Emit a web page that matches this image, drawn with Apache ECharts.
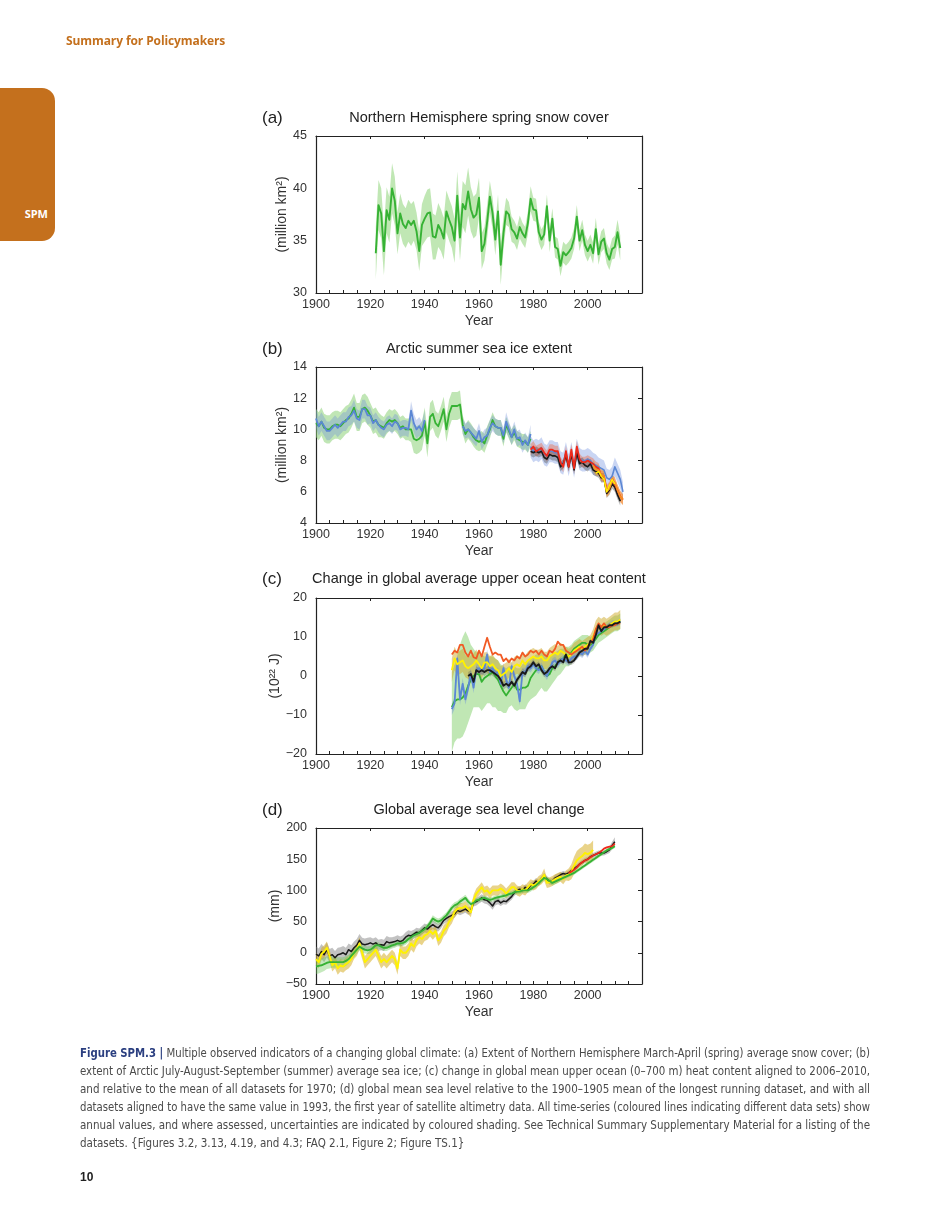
<!DOCTYPE html>
<html>
<head>
<meta charset="utf-8">
<script src="https://cdn.jsdelivr.net/npm/echarts@6/dist/echarts.min.js"></script>
<style>
  html, body { margin:0; padding:0; background:#fff; }
  body { width:950px; height:1230px; position:relative; overflow:hidden; font-family:"Liberation Sans", Arial, sans-serif; }
  #chart { position:absolute; left:0; top:0; width:950px; height:1230px; }
  .hdr { position:absolute; left:66px; top:32px; font-size:12px; font-weight:bold; color:#c4701d; font-family:"Open Sans","Liberation Sans",sans-serif; letter-spacing:-0.1px; }
  .tab { position:absolute; left:0; top:88px; width:55px; height:153px; background:#c4701d; border-radius:0 13px 13px 0; }
  .tab span { position:absolute; right:7px; top:118px; color:#fff; font-weight:bold; font-size:11px; font-family:"Open Sans","Liberation Sans",sans-serif; }
  .cap { position:absolute; left:80px; top:1044px; width:790px; font-family:"Liberation Sans Narrow","DejaVu Sans Condensed","Liberation Sans",sans-serif; font-size:11.5px; color:#4a4a4a; }
  .cap .ln { height:18px; line-height:18px; white-space:nowrap; }
  .cap .ln > span { display:inline-block; white-space:nowrap; transform-origin:0 50%; }
  .cap b { color:#2b3f80; }
  .pg { position:absolute; left:80px; top:1170px; font-weight:bold; font-size:12px; color:#222; }
</style>
</head>
<body>
<div id="chart"></div>
<div class="hdr">Summary for Policymakers</div>
<div class="tab"><span>SPM</span></div>
<div class="cap">
  <div class="ln"><span><b>Figure SPM.3 |</b> Multiple observed indicators of a changing global climate: (a) Extent of Northern Hemisphere March-April (spring) average snow cover; (b)</span></div>
  <div class="ln"><span>extent of Arctic July-August-September (summer) average sea ice; (c) change in global mean upper ocean (0–700 m) heat content aligned to 2006–2010,</span></div>
  <div class="ln"><span>and relative to the mean of all datasets for 1970; (d) global mean sea level relative to the 1900–1905 mean of the longest running dataset, and with all</span></div>
  <div class="ln"><span>datasets aligned to have the same value in 1993, the first year of satellite altimetry data. All time-series (coloured lines indicating different data sets) show</span></div>
  <div class="ln"><span>annual values, and where assessed, uncertainties are indicated by coloured shading. See Technical Summary Supplementary Material for a listing of the</span></div>
  <div class="ln last"><span>datasets. {Figures 3.2, 3.13, 4.19, and 4.3; FAQ 2.1, Figure 2; Figure TS.1}</span></div>
</div>
<div class="pg">10</div>
<script>
// ---------------- DATA ----------------
const xTickLabels = [1900, 1920, 1940, 1960, 1980, 2000];

// (a) Northern Hemisphere spring snow cover (million km2), 1922-2012
const snowStart = 1922;
const snowCover = [33.8,38.4,37.6,34.0,37.9,37.0,40.0,38.8,
  35.7,37.6,36.6,36.2,36.9,36.5,36.9,35.9,34.0,36.5,
  37.1,37.6,37.7,35.4,35.3,36.5,36.0,35.2,37.8,37.0,
  36.3,35.0,39.3,35.3,38.5,38.0,39.7,38.0,37.2,37.5,
  39.1,34.0,34.7,36.8,39.2,37.6,35.1,37.8,32.7,35.7,
  37.8,37.5,36.1,35.8,35.2,36.3,35.7,35.3,36.7,39.0,
  38.0,37.9,35.8,35.1,35.6,38.3,35.0,37.1,34.4,34.2,
  32.6,33.9,33.6,33.9,34.3,35.2,37.3,35.0,36.0,34.6,
  34.0,34.6,33.8,36.1,33.7,34.9,35.2,33.8,33.2,34.2,
  34.4,35.8,34.3];
const snowUnc = [2.5,2.4,2.4,2.3,2.2,2.2,2.4,2.3,
  2.0,1.9,1.9,1.9,2.0,2.0,1.9,1.8,1.9,2.0,
  2.2,2.3,2.3,2.2,2.1,2.1,2.0,2.0,2.0,2.0,
  2.0,2.1,2.3,2.2,2.2,2.3,2.3,2.1,2.0,2.0,
  1.9,1.7,1.6,1.6,1.5,1.5,1.5,1.6,1.9,1.6,
  1.3,1.2,1.2,1.1,1.1,1.1,1.0,1.0,1.1,1.2,
  1.1,1.1,1.0,1.0,1.0,1.1,1.1,1.0,1.0,1.0,
  1.0,1.0,1.0,1.0,1.0,1.0,1.1,1.0,1.0,1.0,
  1.0,1.0,1.0,1.1,1.0,1.0,1.0,1.0,1.0,1.0,
  1.1,1.2,1.2];

// (b) Arctic summer sea ice extent (million km2)
const iceGreenStart = 1900;
const iceGreen = [10.4,10.2,10.5,10.1,10.0,10.0,10.2,10.3,10.3,10.2,
  10.4,10.6,10.7,11.0,11.4,10.8,10.8,11.3,11.4,11.2,
  10.9,10.5,10.6,10.3,10.2,10.1,10.4,10.6,10.5,10.6,
  10.4,10.1,10.2,10.0,10.0,10.0,9.4,9.3,9.4,9.6,
  10.5,9.1,10.8,11.0,10.4,10.2,10.7,11.3,10.0,11.0,
  11.5,11.5,11.5,11.6,10.3,9.7,10.0,9.8,9.5,9.3,
  9.2,9.3,9.1,9.6,10.0,10.6,10.2,10.1,10.1,9.4,
  10.3,9.9,9.5,9.8,9.4,9.3,9.2,9.2,9.0,9.4];
const iceGreenUnc = [0.9,0.9,0.9,0.9,0.9,0.9,0.9,0.9,0.9,0.9,
  0.9,0.9,0.9,0.9,0.9,0.9,0.9,0.9,0.9,0.9,
  0.8,0.8,0.8,0.8,0.7,0.7,0.7,0.7,0.7,0.7,
  0.7,0.7,0.7,0.7,0.7,0.8,0.9,0.9,0.9,0.9,
  0.9,0.9,0.9,0.9,0.8,0.8,0.8,0.8,0.8,0.9,
  0.9,0.9,0.9,0.9,0.6,0.6,0.6,0.6,0.6,0.6,
  0.6,0.6,0.6,0.6,0.6,0.5,0.5,0.5,0.5,0.5,
  0.5,0.5,0.5,0.5,0.5,0.5,0.5,0.5,0.5,0.5];
const iceBlueEarlyStart = 1900;
const iceBlueEarly = [10.7,10.2,10.5,10.2,9.9,9.9,10.1,10.3,10.1,10.3,
  10.5,10.5,10.8,10.9,11.2,10.7,10.6,11.3,11.3,10.9,
  10.9,10.4,10.6,10.3,10.1,10.0,10.3,10.4,10.2,10.5,
  10.4,10.0,10.1,10.1,10.0,11.2,10.4,10.0,10.2,9.9,
  10.6];
const iceBlueEarlyUnc = [0.6,0.6,0.6,0.6,0.6,0.6,0.6,0.6,0.6,0.6,
  0.6,0.6,0.6,0.6,0.7,0.6,0.6,0.6,0.6,0.6,
  0.5,0.5,0.5,0.5,0.5,0.5,0.5,0.5,0.5,0.5,
  0.5,0.5,0.5,0.5,0.5,0.6,0.6,0.6,0.6,0.6,
  0.6];
const iceBlueMidStart = 1954;
const iceBlueMid = [10.2,9.9,10.0,9.8,9.6,9.4,9.9,9.2,9.5,9.6,
  10.1,10.4,10.2,10.1,10.1,9.6,10.5,10.0,9.5,10.0,
  9.4,9.5,9.0,9.3,9.0,9.7];
const iceBlueMidUnc = [0.5,0.5,0.5,0.5,0.5,0.5,0.5,0.5,0.5,0.5,
  0.5,0.5,0.5,0.5,0.5,0.5,0.6,0.5,0.5,0.5,
  0.5,0.5,0.5,0.5,0.5,0.6];
const iceSatStart = 1979;
const iceBlueLate = [8.9,8.6,8.7,8.6,8.8,8.4,8.3,8.6,8.6,8.5,
  8.5,7.9,7.8,8.5,7.7,8.5,7.6,8.7,8.1,8.0,
  8.0,8.1,8.0,7.8,7.7,7.6,7.5,7.4,6.9,6.8,
  7.0,7.6,7.2,6.8,6.0];
const iceBlueLateUnc = [0.7,0.7,0.7,0.7,0.7,0.7,0.7,0.7,0.7,0.7,
  0.7,0.7,0.7,0.7,0.7,0.7,0.7,0.7,0.7,0.7,
  0.7,0.7,0.7,0.7,0.7,0.6,0.6,0.6,0.6,0.6,
  0.6,0.6,0.6,0.6,0.6];
const iceBlack = [8.6,8.5,8.6,8.5,8.6,8.2,8.1,8.4,8.3,8.3,
  8.2,7.6,7.8,8.3,7.6,8.4,7.4,8.5,7.8,7.9,
  7.7,7.6,7.8,7.4,7.3,7.2,6.9,6.9,5.9,6.1,
  6.5,6.3,5.8,5.4];
const iceBlackUnc = [0.3,0.3,0.3,0.3,0.3,0.3,0.3,0.3,0.3,0.3,
  0.3,0.3,0.3,0.3,0.3,0.3,0.3,0.3,0.3,0.3,
  0.3,0.3,0.3,0.3,0.3,0.3,0.3,0.3,0.3,0.3,
  0.3,0.3,0.3,0.3];
const iceRed = [8.7,8.9,8.6,8.7,8.8,8.5,8.3,8.7,8.7,8.6,
  8.6,7.9,7.6,8.6,7.6,8.7,7.5,8.9,8.1,7.9,
  7.9,8.0,7.9,7.8,7.6,7.5,7.0,7.0,6.1,6.3,
  6.8,6.5,6.1,5.7,5.5];
const iceRedUnc = [0.35,0.35,0.35,0.35,0.35,0.35,0.35,0.35,0.35,0.35,
  0.35,0.35,0.35,0.35,0.35,0.35,0.35,0.35,0.35,0.35,
  0.35,0.35,0.35,0.35,0.35,0.35,0.35,0.35,0.35,0.35,
  0.35,0.35,0.35,0.35,0.35];
const iceOrangeStart = 2002;
const iceOrange = [7.7,7.4,7.4,7.1,7.0,6.0,6.2,6.7,6.6,6.1,5.7,5.5];
const iceOrangeUnc = [0.35,0.35,0.35,0.35,0.35,0.35,0.35,0.35,0.35,0.35,0.35,0.35];
const iceYellowStart = 2003;
const iceYellow = [7.2,7.3,7.0,6.8,6.0,6.4,6.8,6.5];

// (c) Change in upper ocean heat content (10^22 J), 1950-2012
const ohcStart = 1950;
const ohcRed = [5.5,6.5,6.0,8.0,8.0,6.0,5.0,6.5,4.8,4.5,
  6.5,5.0,7.5,9.8,7.5,5.5,6.0,5.5,5.5,3.8,
  4.5,3.5,4.5,4.0,5.0,4.5,6.0,5.0,5.5,6.5,
  6.0,6.5,5.5,6.5,5.5,5.0,6.5,6.0,7.0,8.8,
  8.0,8.0,6.5,6.0,5.5,6.0,6.5,7.0,7.5,6.5,
  7.5,8.5,9.5,12.0,13.5,12.5,13.5,12.5,12.5,13.0,
  13.0,13.5,13.5];
const ohcYellow = [1.5,4.5,3.0,3.5,4.0,2.5,2.0,2.5,3.0,4.0,
  3.0,2.0,3.5,3.5,2.5,3.0,2.0,1.5,0.0,0.5,
  1.0,2.0,1.0,2.5,3.0,2.5,4.0,3.0,4.0,4.5,
  5.0,4.5,4.5,5.0,4.0,4.0,5.0,5.5,6.0,5.5,
  6.5,6.0,5.5,5.0,5.5,6.5,7.0,7.5,7.0,7.5,
  8.0,8.5,10.0,12.0,13.0,12.5,13.0,12.5,13.0,13.5,
  14.0,14.0,14.5];
const ohcYellowUnc = [3.0,3.0,3.0,3.0,3.0,2.8,2.8,2.8,2.8,2.8,
  2.6,2.6,2.6,2.6,2.6,2.5,2.5,2.5,2.5,2.5,
  2.4,2.4,2.4,2.4,2.4,2.3,2.3,2.3,2.3,2.3,
  2.2,2.2,2.2,2.2,2.2,2.2,2.2,2.2,2.2,2.2,
  2.0,2.0,2.0,2.0,2.0,2.0,2.0,2.0,2.0,2.0,
  2.0,2.0,2.0,2.2,2.2,2.2,2.2,2.2,2.2,2.2,
  2.3,2.3,2.4];
const ohcBlue = [-8.5,-7.0,4.5,-6.0,-2.0,-6.0,-3.0,0.5,-3.0,1.5,
  2.0,1.5,2.0,5.5,1.0,2.0,0.5,1.0,-2.0,2.0,
  -1.0,-3.0,2.5,0.0,-2.0,-6.5,1.0,1.0,2.5,2.0,
  3.0,2.0,1.5,2.5,1.0,0.0,1.5,3.5,4.0,3.0,
  4.0,4.5,4.0,3.5,4.5,5.0,5.0,6.0,5.5,6.5,
  5.5,7.0,8.0,10.5,11.0,11.5,12.0,12.5,13.0,13.5,
  13.5,13.5,14.0];
const ohcBlueUnc = [1.5,1.5,1.5,1.5,1.5,1.4,1.4,1.4,1.4,1.4,
  1.3,1.3,1.3,1.3,1.3,1.2,1.2,1.2,1.2,1.2,
  1.2,1.2,1.2,1.2,1.2,1.1,1.1,1.1,1.1,1.1,
  1.0,1.0,1.0,1.0,1.0,1.0,1.0,1.0,1.0,1.0,
  0.9,0.9,0.9,0.9,0.9,0.9,0.9,0.9,0.9,0.9,
  0.8,0.8,0.8,0.8,0.8,0.8,0.8,0.8,0.8,0.8,
  0.8,0.8,0.8];
const ohcGreen = [-8.0,-6.5,-6.0,-6.0,-5.5,-4.5,-2.5,-1.0,0.0,0.5,
  0.5,-1.5,-0.5,0.0,0.5,1.0,0.0,-1.0,-2.5,-4.0,
  -5.0,-4.0,-3.0,-2.0,-3.5,-3.5,-3.0,-3.0,-2.5,-0.5,
  0.5,1.5,2.0,2.5,1.0,0.0,0.5,2.0,2.5,3.5,
  4.0,4.5,5.5,5.0,6.0,7.0,7.5,8.0,8.5,8.5,
  8.0,8.0,8.5,9.5,10.5,11.0,11.5,12.0,12.5,13.0,
  13.5,13.5,14.0];
const ohcGreenLow = [-19.5,-17,-16,-16,-15.5,-14,-12,-10,-8,-8,
  -8,-9,-8,-7,-7,-8,-8,-9,-9,-9.5,
  -9.5,-8,-7.5,-8.5,-9,-8.5,-8.5,-8.5,-7,-6,
  -5.5,-5,-4,-3,-4,-4,-3,-2,-1,0,
  0.5,1.5,2.5,2.5,3,4,4.5,5,5.5,5.5,
  5.5,6,6.5,7.5,8.5,9,9.5,10,10.5,11,
  11.5,11.5,12];
const ohcGreenHigh = [1,3,5,8,10,11.5,10,8,7,6,
  6,5.5,5,5,5,5,4.5,4,3,2.5,
  2,2.5,2.5,2.5,2,2,3,3.5,4,4.5,
  5,5.5,5.5,6,5.5,5,5,5.5,6,6.5,
  7,7,7.5,7.5,8,9,9.5,10,10.5,10.5,
  10.5,10,10.5,11.5,12.5,13,13.5,14,14.5,15,
  15.5,15.5,16];
const ohcBlackStart = 1956;
const ohcBlack = [0.0,0.5,-1.5,1.5,
  1.0,1.5,1.0,1.5,1.5,1.0,0.5,0.0,-1.0,-2.5,
  -2.0,-2.5,-1.5,-2.5,-1.0,0.0,1.0,0.5,2.0,2.5,
  3.5,2.5,3.0,1.5,0.5,1.0,2.0,2.5,2.0,3.5,
  4.0,3.5,5.5,3.5,3.5,4.0,5.0,6.0,6.5,7.0,
  7.0,9.0,8.5,10.5,13.0,11.5,12.5,12.5,13.0,13.0,
  13.5,13.5,14.0];
const ohcBlackUnc = [1.0,1.0,1.0,1.0,
  1.0,1.0,1.0,1.0,1.0,1.0,1.0,1.0,1.0,1.0,
  0.9,0.9,0.9,0.9,0.9,0.9,0.9,0.9,0.9,0.9,
  0.8,0.8,0.8,0.8,0.8,0.8,0.8,0.8,0.8,0.8,
  0.7,0.7,0.7,0.7,0.7,0.7,0.7,0.7,0.7,0.7,
  0.6,0.6,0.6,0.6,0.6,0.6,0.6,0.6,0.6,0.6,
  0.6,0.6,0.6];

// (d) Global average sea level change (mm)
const slStart = 1900;
const slBlack = [-2,-5,2,-3,5,-5,-3,-8,-3,-2,
  0,-3,5,2,8,12,20,14,13,14,
  16,14,16,12,13,12,18,16,17,18,
  20,18,20,25,28,27,30,33,32,36,
  40,38,42,45,42,40,45,52,55,58,
  60,62,68,66,68,70,67,68,80,82,
  85,88,85,84,80,75,82,84,80,83,
  82,86,90,96,100,102,100,105,102,108,
  110,115,112,118,123,118,114,115,120,122,
  125,127,126,128,132,135,138,142,145,148,
  150,154,156,158,160,160,160,162,165,172,
  178];
const slBlackUnc = [12,12,12,12,12,11,11,11,11,11,
  11,11,10,10,10,10,10,10,10,10,
  9,9,9,9,9,9,9,9,8,8,
  8,8,8,8,8,8,7,7,7,7,
  7,7,7,7,7,6,6,6,6,6,
  6,6,6,6,6,6,6,6,6,6,
  6,6,6,6,6,6,6,6,5,5,
  5,5,5,5,5,5,5,5,5,5,
  5,5,5,5,5,5,5,5,5,5,
  4,4,4,4,4,4,4,4,4,4,
  4,4,4,4,4,4,4,4,5,6,
  7];
const slYellow = [-10,-15,-2,2,8,-5,-20,-15,-25,-20,
  -22,-18,-15,-10,0,5,15,0,-15,-10,
  -5,0,5,-5,-15,-10,-15,-10,-5,-10,
  -25,5,0,0,5,15,10,20,25,22,
  28,30,35,30,35,20,25,35,40,50,
  55,65,70,72,72,75,70,65,85,95,
  100,105,98,100,95,100,100,100,103,100,
  95,100,105,105,100,98,102,100,105,110,
  108,110,115,118,125,112,113,115,118,120,
  122,118,124,125,130,140,148,152,155,160,
  158,160,165];
const slYellowUnc = [10,10,10,10,10,10,10,10,10,10,
  10,10,10,10,10,10,10,10,10,10,
  10,10,10,10,10,10,10,10,10,10,
  10,10,10,10,10,10,10,10,10,10,
  9,9,9,9,9,9,9,9,9,9,
  8,8,8,8,8,8,8,8,8,8,
  8,8,8,8,8,8,8,8,8,8,
  8,8,8,8,8,8,8,8,8,8,
  8,8,8,8,10,8,8,8,8,8,
  8,8,8,10,12,14,15,15,15,15,
  15,15,15];
const slGreen = [-22,-21,-20,-18,-16,-15,-15,-15,-15,-15,
  -15,-13,-10,-5,0,5,10,7,5,4,
  5,8,12,12,10,8,8,10,12,13,
  15,15,16,18,22,25,28,30,32,35,
  38,42,48,55,52,50,52,56,60,66,
  72,76,78,82,85,88,82,78,80,84,
  85,87,88,86,85,86,88,89,90,91,
  92,94,95,97,98,98,100,100,100,102,
  105,108,112,116,120,118,115,112,114,116,
  118,120,122,124,126,128,131,134,137,140,
  143,146,149,152,155,158,161,164,166,168,
  171];
const slGreenUnc = [12,12,11,11,10,10,9,9,8,8,
  8,8,7,7,7,7,6,6,6,6,
  6,6,6,5,5,5,5,5,5,5,
  5,5,5,5,5,5,5,5,5,5,
  5,5,5,5,5,5,5,5,5,5,
  5,5,5,5,5,5,5,4,4,4,
  4,4,4,4,4,4,4,4,4,4,
  4,4,4,4,4,4,4,4,4,4,
  4,4,4,4,4,4,4,4,4,4,
  3,3,3,3,3,3,3,3,3,3,
  3,3,3,3,3,3,3,3,3,3,
  3];
const slRedStart = 1993;
const slRed = [128,130,133,137,142,145,148,150,153,156,158,160,163,167,169,170,171,175];

// ---------------- CHART ----------------
const FONT = '"Liberation Sans", Arial, Helvetica, sans-serif';
const grids = [
  { top: 136, height: 157 },
  { top: 367, height: 156 },
  { top: 598, height: 156 },
  { top: 828, height: 156 }
];
const yCfg = [
  { min: 30, max: 45, interval: 5, name: '(million km²)' },
  { min: 4, max: 14, interval: 2, name: '(million km²)' },
  { min: -20, max: 20, interval: 10, name: '(10²² J)' },
  { min: -50, max: 200, interval: 50, name: '(mm)' }
];
const titles = [
  ['(a)', 'Northern Hemisphere spring snow cover', 118],
  ['(b)', 'Arctic summer sea ice extent', 349],
  ['(c)', 'Change in global average upper ocean heat content', 579],
  ['(d)', 'Global average sea level change', 810]
];
const AX = '#222';
const xAxis = [], yAxis = [], series = [], graphic = [];
grids.forEach((g, i) => {
  xAxis.push({
    gridIndex: i, type: 'value', min: 1900, max: 2020, interval: 20, position: 'bottom',
    axisLine: { show: true, onZero: false, lineStyle: { color: AX, width: 1.2 } },
    axisTick: { show: true, inside: true, length: 3, lineStyle: { color: AX, width: 1 } },
    minorTick: { show: true, splitNumber: 4, length: 3, lineStyle: { color: AX, width: 1 } },
    splitLine: { show: false },
    axisLabel: { fontSize: 12.5, color: '#333', margin: 5, fontFamily: FONT,
      formatter: v => (xTickLabels.indexOf(v) >= 0 ? String(v) : '') },
    name: 'Year', nameLocation: 'middle', nameGap: 21,
    nameTextStyle: { fontSize: 14, color: '#333', fontFamily: FONT }
  });
  xAxis.push({
    gridIndex: i, type: 'value', min: 1900, max: 2020, interval: 20, position: 'top',
    axisLine: { show: true, onZero: false, lineStyle: { color: AX, width: 1.2 } },
    axisTick: { show: true, inside: true, length: 3, lineStyle: { color: AX, width: 1 } },
    axisLabel: { show: false }, splitLine: { show: false }
  });
  const yc = yCfg[i];
  yAxis.push({
    gridIndex: i, type: 'value', min: yc.min, max: yc.max, interval: yc.interval, position: 'left',
    axisLine: { show: true, onZero: false, lineStyle: { color: AX, width: 1.2 } },
    axisTick: { show: false },
    splitLine: { show: false },
    axisLabel: { fontSize: 12.5, color: '#333', margin: 9, fontFamily: FONT,
      formatter: v => String(v).replace('-', '\u2212') },
    name: yc.name, nameLocation: 'middle', nameGap: 25, nameRotate: 90,
    nameTextStyle: { fontSize: 14, color: '#333', fontFamily: FONT }
  });
  yAxis.push({
    gridIndex: i, type: 'value', min: yc.min, max: yc.max, interval: yc.interval, position: 'right',
    axisLine: { show: true, onZero: false, lineStyle: { color: AX, width: 1.2 } },
    axisTick: { show: true, inside: true, length: 4, lineStyle: { color: AX, width: 1 } },
    axisLabel: { show: false }, splitLine: { show: false }
  });
  const t = titles[i];
  graphic.push({ type: 'text', x: 262, y: t[2], silent: true,
    style: { text: t[0], fontSize: 17, fontFamily: FONT, fill: '#222', verticalAlign: 'middle', align: 'left' } });
  graphic.push({ type: 'text', x: 479, y: t[2], silent: true,
    style: { text: t[1], fontSize: 14.5, fontFamily: FONT, fill: '#222', verticalAlign: 'middle', align: 'center' } });
});

let zc = 1;
function bandLoHi(g, start, lo, hi, color) {
  const data = lo.map((l, k) => [start + k, l, hi[k]]);
  series.push({
    type: 'custom', xAxisIndex: 2 * g, yAxisIndex: 2 * g, silent: true, animation: false,
    z: 1 + (zc++) * 0.001, encode: { x: 0, y: [1, 2] }, data: data,
    renderItem: function (params, api) {
      if (params.dataIndex !== 0) return null;
      const up = data.map(d => api.coord([d[0], d[2]]));
      const dn = data.map(d => api.coord([d[0], d[1]])).reverse();
      return { type: 'polygon', shape: { points: up.concat(dn) }, style: { fill: color, stroke: null } };
    }
  });
}
function bandUnc(g, start, vals, unc, color) {
  bandLoHi(g, start, vals.map((v, k) => v - unc[k]), vals.map((v, k) => v + unc[k]), color);
}
function line(g, start, vals, color, width) {
  series.push({ type: 'line', xAxisIndex: 2 * g, yAxisIndex: 2 * g,
    data: vals.map((v, k) => [start + k, v]),
    symbol: 'none', silent: true, animation: false, z: 5 + (zc++) * 0.001,
    lineStyle: { color: color, width: width || 1.8, join: 'round' } });
}

// colours
const GREEN = '#36b234', BLUE = '#5b87d4', RED = '#ee2a1b', ORANGE_RED = '#f15a24',
      YELLOW = '#fff200', BLACK = '#1a1a1a', ORANGE = '#f7931e';

// (a)
bandUnc(0, snowStart, snowCover, snowUnc, 'rgba(150,215,130,0.6)');
line(0, snowStart, snowCover, GREEN, 1.9);

// (b)
bandUnc(1, iceGreenStart, iceGreen, iceGreenUnc, 'rgba(140,210,120,0.55)');
bandUnc(1, iceBlueEarlyStart, iceBlueEarly, iceBlueEarlyUnc, 'rgba(110,140,215,0.35)');
bandUnc(1, iceBlueMidStart, iceBlueMid, iceBlueMidUnc, 'rgba(110,140,215,0.35)');
bandUnc(1, iceSatStart, iceBlueLate, iceBlueLateUnc, 'rgba(120,150,225,0.4)');
bandUnc(1, iceSatStart, iceRed, iceRedUnc, 'rgba(235,110,80,0.45)');
bandUnc(1, iceSatStart, iceBlack, iceBlackUnc, 'rgba(60,60,60,0.35)');
bandUnc(1, iceOrangeStart, iceOrange, iceOrangeUnc, 'rgba(245,150,40,0.55)');
line(1, iceGreenStart, iceGreen, GREEN, 1.8);
line(1, iceBlueEarlyStart, iceBlueEarly, BLUE, 1.8);
line(1, iceBlueMidStart, iceBlueMid, BLUE, 1.8);
line(1, iceSatStart, iceBlueLate, BLUE, 1.6);
line(1, iceSatStart, iceBlack, BLACK, 1.6);
line(1, iceSatStart, iceRed, RED, 1.8);
line(1, iceOrangeStart, iceOrange, ORANGE, 1.6);
line(1, iceYellowStart, iceYellow, YELLOW, 1.4);

// (c)
bandLoHi(2, ohcStart, ohcGreenLow, ohcGreenHigh, 'rgba(150,215,130,0.6)');
bandUnc(2, ohcStart, ohcYellow, ohcYellowUnc, 'rgba(205,170,40,0.5)');
bandUnc(2, ohcStart, ohcBlue, ohcBlueUnc, 'rgba(110,145,220,0.4)');
bandUnc(2, ohcBlackStart, ohcBlack, ohcBlackUnc, 'rgba(90,90,90,0.3)');
line(2, ohcStart, ohcGreen, GREEN, 1.8);
line(2, ohcStart, ohcBlue, BLUE, 1.8);
line(2, ohcStart, ohcYellow, YELLOW, 1.8);
line(2, ohcStart, ohcRed, ORANGE_RED, 1.8);
line(2, ohcBlackStart, ohcBlack, BLACK, 1.9);

// (d)
bandUnc(3, slStart, slBlack, slBlackUnc, 'rgba(120,120,120,0.45)');
bandUnc(3, slStart, slYellow, slYellowUnc, 'rgba(215,175,40,0.55)');
bandUnc(3, slStart, slGreen, slGreenUnc, 'rgba(110,200,90,0.4)');
line(3, slStart, slBlack, BLACK, 1.5);
line(3, slStart, slYellow, YELLOW, 1.9);
line(3, slStart, slGreen, GREEN, 1.9);
line(3, slRedStart, slRed, RED, 1.8);

const chart = echarts.init(document.getElementById('chart'), null, { renderer: 'canvas' });
chart.setOption({
  animation: false,
  backgroundColor: 'transparent',
  textStyle: { fontFamily: FONT },
  grid: grids.map(g => ({ left: 316, width: 326, top: g.top, height: g.height, containLabel: false })),
  xAxis: xAxis, yAxis: yAxis, series: series, graphic: graphic
});

// ---- caption justification ----
(function () {
  const target = 790;
  const lns = Array.from(document.querySelectorAll('.cap .ln'));
  let lastScale = 1;
  lns.forEach(ln => {
    const sp = ln.firstElementChild;
    const w = sp.getBoundingClientRect().width;
    if (ln.classList.contains('last')) {
      if (lastScale < 1) sp.style.transform = 'scaleX(' + lastScale + ')';
      return;
    }
    if (w > target) {
      lastScale = target / w;
      sp.style.transform = 'scaleX(' + lastScale + ')';
    } else {
      const n = (sp.textContent.match(/ /g) || []).length;
      sp.style.wordSpacing = ((target - w) / Math.max(n, 1)) + 'px';
      lastScale = 1;
    }
  });
})();
</script>
</body>
</html>
